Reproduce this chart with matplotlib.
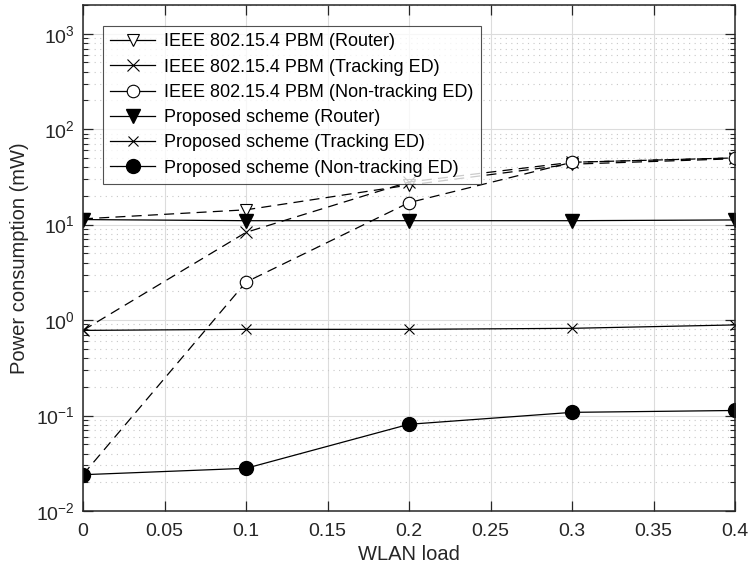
import numpy as np
import matplotlib.pyplot as plt
from matplotlib.ticker import LogLocator, NullFormatter

plt.rcParams['font.family'] = ['Liberation Sans', 'DejaVu Sans']
plt.rcParams['mathtext.fontset'] = 'custom'
plt.rcParams['mathtext.rm'] = 'Liberation Sans'

load = [0, 0.1, 0.2, 0.3, 0.4]

# IEEE 802.15.4 PBM
pbm_router = [11.5, 14.3, 26.0, 43.0, 49.0]
pbm_tracking = [0.78, 8.3, 28.0, 45.0, 50.0]
pbm_nontracking = [0.024, 2.5, 17.0, 45.0, 50.0]

# proposed scheme
prop_router = [11.3, 11.0, 11.0, 11.0, 11.2]
prop_tracking = [0.78, 0.80, 0.80, 0.82, 0.89]
prop_nontracking = [0.024, 0.028, 0.081, 0.108, 0.113]

xticks = [0, 0.05, 0.1, 0.15, 0.2, 0.25, 0.3, 0.35, 0.4]
xticklabels = ['0', '0.05', '0.1', '0.15', '0.2', '0.25', '0.3', '0.35', '0.4']

fig = plt.figure(figsize=(7.51, 5.71), dpi=100)
ax = fig.add_axes([83 / 751, 1 - 511 / 571, (735 - 83) / 751, (511 - 5) / 571])

dash = (0, (8, 5))
lw = 0.9
ax.plot(load, pbm_router, color='k', lw=lw, ls=dash, marker='v', ms=9,
        mfc='white', mec='k', mew=0.8, label='IEEE 802.15.4 PBM (Router)')
ax.plot(load, pbm_tracking, color='k', lw=lw, ls=dash, marker='x', ms=8,
        mew=0.8, label='IEEE 802.15.4 PBM (Tracking ED)')
ax.plot(load, pbm_nontracking, color='k', lw=lw, ls=dash, marker='o', ms=9,
        mfc='white', mec='k', mew=0.8, label='IEEE 802.15.4 PBM (Non-tracking ED)')
ax.plot(load, prop_router, color='k', lw=lw, marker='v', ms=10,
        mfc='k', label='Proposed scheme (Router)')
ax.plot(load, prop_tracking, color='k', lw=lw, marker='x', ms=7,
        mew=0.8, label='Proposed scheme (Tracking ED)')
ax.plot(load, prop_nontracking, color='k', lw=lw, marker='o', ms=10,
        mfc='k', label='Proposed scheme (Non-tracking ED)')

ax.set_yscale('log')
ax.set_xlim(0, 0.4)
ax.set_ylim(1e-2, 2e3)
ax.set_xticks(xticks)
ax.set_xticklabels(xticklabels)
ax.yaxis.set_major_locator(LogLocator(base=10, numticks=10))
ax.yaxis.set_minor_locator(LogLocator(base=10, subs=np.arange(2, 10), numticks=20))
ax.yaxis.set_minor_formatter(NullFormatter())

ax.tick_params(which='both', direction='in', top=True, right=True,
               labelsize=14, colors='#262626')
ax.tick_params(which='major', length=7, width=0.9)
ax.tick_params(which='minor', length=3.5, width=0.8)
ax.tick_params(axis='x', pad=9)
ax.tick_params(axis='y', pad=6)

ax.grid(True, which='major', color='#dcdcdc', lw=0.8, ls='-')
ax.grid(True, which='minor', axis='y', color='#c8c8c8', lw=0.8, ls=(0, (1, 4)))
ax.set_axisbelow(True)
for s in ax.spines.values():
    s.set_color('#262626')
    s.set_linewidth(1.1)

ax.set_xlabel('WLAN load', fontsize=14.5, color='#262626', labelpad=3)
ax.set_ylabel('Power consumption (mW)', fontsize=14.5, color='#262626', labelpad=5)

leg = ax.legend(loc='upper left', bbox_to_anchor=(20 / 652, 1 - 21 / 506),
                fontsize=13, frameon=True, fancybox=False, edgecolor='#262626',
                handlelength=2.5, handletextpad=0.5, borderpad=0.4,
                labelspacing=0.46, borderaxespad=0)
leg.get_frame().set_linewidth(0.8)
for h in leg.get_lines():
    h.set_linestyle('-')

fig.savefig('out.png', dpi=100)
